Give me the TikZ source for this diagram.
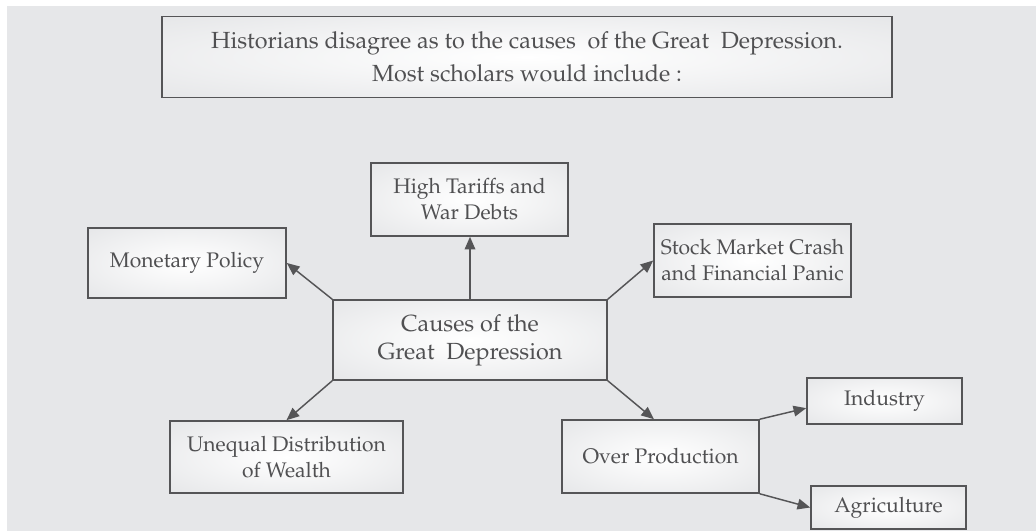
\documentclass[tikz,border=0pt]{standalone}
\usepackage[T1]{fontenc}
\usepackage{mathpazo}
\usetikzlibrary{arrows.meta,calc}

\definecolor{pagegrey}{HTML}{E6E7E9}
\definecolor{boxedge}{HTML}{E4E5E7}
\definecolor{inkgrey}{HTML}{555557}
\definecolor{textgrey}{HTML}{505052}

\pgfdeclareradialshading{boxglow}{\pgfpoint{0bp}{0bp}}{%
  color(0bp)=(white); color(12bp)=(white!70!boxedge); color(38bp)=(boxedge); color(50bp)=(boxedge)}

\tikzset{
  card/.style={draw=inkgrey, line width=1.2pt, shading=boxglow, inner sep=0pt,
    align=center, text=textgrey, font=\fontsize{15.8}{19.5}\selectfont},
  link/.style={draw=inkgrey, line width=1.1pt, -{Triangle[length=9.5pt,width=8pt]}},
}

\begin{document}
\begin{tikzpicture}[x=0.75pt, y=-0.75pt]
  \useasboundingbox (0,0) rectangle (1036,531);
  \fill[white] (0,0) rectangle (1036,531);
  \fill[pagegrey] (7,6) rectangle (1036,531);

  % heading
  \node[card, minimum width=730*0.75pt, minimum height=81*0.75pt,
        font=\fontsize{17.5}{24.75}\selectfont] (intro) at (527,57)
    {Historians disagree as to the causes\ \ of the Great\ \ Depression.\\
     Most scholars would include :};

  % central node
  \node[card, minimum width=274*0.75pt, minimum height=80*0.75pt,
        font=\fontsize{17.5}{21}\selectfont] (core) at (470,340)
    {Causes of the\\Great\ \ Depression};

  % causes
  \node[card, minimum width=197*0.75pt, minimum height=73*0.75pt] (tariffs) at (469.5,199.5)
    {High Tariffs and\\War Debts};
  \node[card, minimum width=198*0.75pt, minimum height=70*0.75pt] (money) at (187,263)
    {Monetary Policy};
  \node[card, minimum width=197*0.75pt, minimum height=73*0.75pt] (crash) at (752.5,260.5)
    {Stock Market Crash\\and Financial Panic};
  \node[card, minimum width=233*0.75pt, minimum height=72*0.75pt] (wealth) at (286.5,457)
    {Unequal Distribution\\of Wealth};
  \node[card, minimum width=197*0.75pt, minimum height=73*0.75pt] (overprod) at (660.5,456.5)
    {Over Production};
  \node[card, minimum width=155*0.75pt, minimum height=46*0.75pt] (industry) at (884.5,401)
    {Industry};
  \node[card, minimum width=155*0.75pt, minimum height=43*0.75pt] (agri) at (888.5,507.5)
    {Agriculture};

  % connectors
  \draw[link] (core.north west) -- (money.east);
  \draw[link] (core.north) -- (core.north |- tariffs.south);
  \draw[link] (core.north east) -- (crash.west);
  \draw[link] (core.south west) -- (wealth.north);
  \draw[link] (core.south east) -- ($(overprod.north west)!0.467!(overprod.north east)$);
  \draw[link] (overprod.north east) -- ($(industry.south west)!0.35!(industry.north west)$);
  \draw[link] (overprod.south east) -- (agri.west);
\end{tikzpicture}
\end{document}
